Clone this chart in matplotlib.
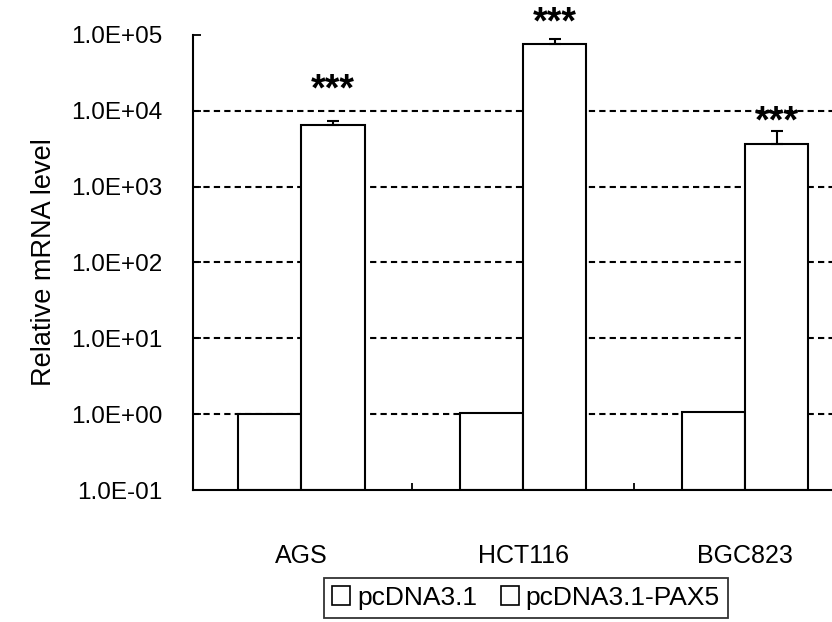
import numpy as np
import matplotlib.pyplot as plt
from matplotlib.ticker import FixedLocator, FixedFormatter, NullLocator

plt.rcParams['font.family'] = ['Liberation Sans', 'DejaVu Sans']

# relative mRNA level, control vs PAX5 overexpression
cells = ['AGS', 'HCT116', 'BGC823']
ctrl = [1.0, 1.04, 1.06]
pax5 = [6500, 76000, 3700]
pax5_err = [850, 12000, 1700]
stars = ['***', '***', '***']
star_pad = [22, 11, 6]   # points above the error cap

fig = plt.figure(figsize=(8.32, 6.22), dpi=100)
ax = fig.add_axes([0.2316, 0.2122, 0.7684, 0.7316])

x = np.arange(len(cells))
w = 0.284
base = 0.1

ax.set_yscale('log')
ax.set_ylim(base, 1e5)
ax.set_xlim(-0.49, 2.39)

# dashed grid at each decade
for v in [1, 10, 100, 1000, 10000]:
    ax.axhline(v, color='black', lw=1.5, ls=(0, (3, 2)), zorder=0)

ax.bar(x - w / 2, np.array(ctrl) - base, w, bottom=base, color='white',
       edgecolor='black', lw=1.5, zorder=2, label='pcDNA3.1')
ax.bar(x + w / 2, np.array(pax5) - base, w, bottom=base, color='white',
       edgecolor='black', lw=1.5, zorder=2, label='pcDNA3.1-PAX5')
ax.errorbar(x + w / 2, pax5, yerr=[np.zeros(3), pax5_err], fmt='none',
            ecolor='black', elinewidth=1.5, capsize=4.5, capthick=1.5, zorder=3)

for i in range(len(cells)):
    ax.annotate(stars[i], (x[i] + w / 2, pax5[i] + pax5_err[i]),
                xytext=(0, star_pad[i]), textcoords='offset points',
                ha='center', va='center', fontsize=27, fontweight='bold',
                annotation_clip=False)

ax.spines['right'].set_visible(False)
ax.spines['top'].set_visible(False)
ax.spines['left'].set_linewidth(1.5)
ax.spines['bottom'].set_linewidth(1.5)

yt = [0.1, 1, 10, 100, 1000, 10000, 100000]
ax.yaxis.set_major_locator(FixedLocator(yt))
ax.yaxis.set_major_formatter(FixedFormatter(['1.0E-01', '1.0E+00', '1.0E+01', '1.0E+02',
                                             '1.0E+03', '1.0E+04', '1.0E+05']))
ax.yaxis.set_minor_locator(NullLocator())
ax.tick_params(axis='y', direction='in', length=6, width=1.3, labelsize=17.5, pad=22)

# category labels centred on groups, ticks between groups
ax.set_xticks([0.5, 1.5])
ax.set_xticklabels(['', ''])
ax.tick_params(axis='x', direction='in', length=5, width=1.3)
for i, c in enumerate(cells):
    ax.text(x[i], -0.145, c, transform=ax.get_xaxis_transform(), ha='center',
            va='center', fontsize=18)

ax.set_ylabel('Relative mRNA level', fontsize=19.5, labelpad=10)

leg = fig.legend(loc='upper center', bbox_to_anchor=(0.632, 0.071), ncol=2,
                 frameon=True, fancybox=False, edgecolor='black', fontsize=19,
                 handlelength=0.7, handleheight=0.7, handletextpad=0.25,
                 columnspacing=0.9, borderpad=0.3, borderaxespad=0)
leg.get_frame().set_linewidth(1.3)
for h in leg.legend_handles:
    h.set_linewidth(1.2)

fig.savefig('out.png', dpi=100)
